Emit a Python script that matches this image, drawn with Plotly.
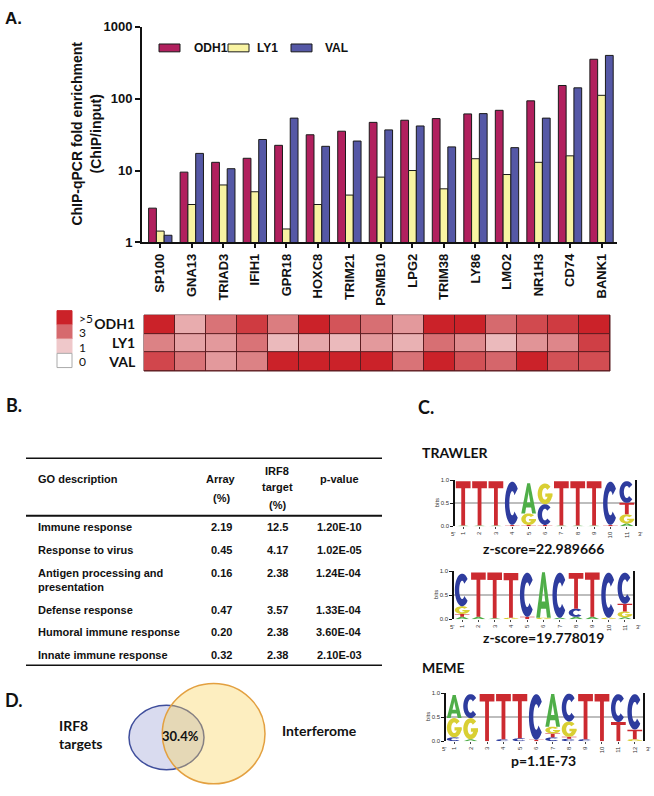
import math
import plotly.graph_objects as go

W, H = 654, 796
def px(x): return x / W
def py(y): return 1 - y / H

ARIAL = "Liberation Sans"
CALI = "Lato"

# ---------------- Panel A data ----------------
genes = ["SP100", "GNA13", "TRIAD3", "IFIH1", "GPR18", "HOXC8", "TRIM21", "PSMB10",
         "LPG2", "TRIM38", "LY86", "LMO2", "NR1H3", "CD74", "BANK1"]
odh1 = [3.0, 9.5, 13.0, 14.8, 22.4, 31.4, 35.2, 46.7, 50.0, 52.7, 61.2, 68.7, 93.0, 152, 352]
ly1 = [1.44, 3.37, 6.3, 5.07, 1.54, 3.37, 4.56, 8.1, 10.0, 5.57, 14.6, 8.8, 13.0, 16.0, 111]
val = [1.26, 17.3, 10.6, 27.0, 53.5, 21.7, 25.7, 36.7, 41.6, 21.3, 61.8, 20.8, 53.5, 141, 398]
series_names = ["ODH1", "LY1", "VAL"]
series_colors = ["#b1205e", "#f8f3a2", "#5558a6"]
y_ticks = [1, 10, 100, 1000]

heat_rows = ["ODH1", "LY1", "VAL"]
heat_odh1 = [5.5, 1.6, 2.8, 4.3, 2.6, 5.5, 3.6, 2.9, 2.0, 5.5, 5.5, 3.0, 3.9, 4.3, 5.5]
heat_ly1 = [2.5, 1.8, 2.0, 2.8, 1.3, 1.7, 1.3, 2.0, 1.5, 2.9, 2.3, 1.3, 2.1, 2.4, 4.2]
heat_val = [4.0, 2.8, 2.0, 2.5, 5.5, 5.5, 5.5, 5.5, 2.8, 5.5, 3.7, 3.1, 5.5, 3.7, 3.8]
heat_legend_vals = [5, 3, 1, 0]
heat_legend_labels = [">5", "3", "1", "0"]
heat_scale = [[0, "#ffffff"], [0.2, "#efc8ca"], [0.6, "#d66a6e"], [1, "#cb2229"]]

# ---------------- Panel B data ----------------
go_terms = ["Immune response", "Response to virus", "Antigen processing and<br>presentation",
            "Defense response", "Humoral immune response", "Innate immune response"]
array_pct = ["2.19", "0.45", "0.16", "0.47", "0.20", "0.32"]
irf8_pct = ["12.5", "4.17", "2.38", "3.57", "2.38", "2.38"]
p_values = ["1.20E-10", "1.02E-05", "1.24E-04", "1.33E-04", "3.60E-04", "2.10E-03"]

# ---------------- Panel C data (stacks bottom -> top) ----------------
logo_trawler1 = [
    [("A", 0.02), ("T", 0.96)], [("A", 0.02), ("T", 0.96)], [("A", 0.02), ("T", 0.96)],
    [("T", 0.03), ("C", 0.94)], [("T", 0.03), ("G", 0.25), ("A", 0.65)],
    [("T", 0.03), ("C", 0.45), ("G", 0.45)],
    [("A", 0.02), ("T", 0.96)], [("A", 0.02), ("T", 0.96)], [("A", 0.02), ("T", 0.96)],
    [("T", 0.03), ("C", 0.94)], [("A", 0.06), ("G", 0.20), ("T", 0.25), ("C", 0.47)],
]
logo_trawler2 = [
    [("A", 0.05), ("T", 0.06), ("G", 0.16), ("C", 0.68)], [("A", 0.05), ("T", 0.92)],
    [("A", 0.02), ("T", 0.95)], [("G", 0.03), ("T", 0.93)], [("T", 0.05), ("C", 0.92)],
    [("G", 0.03), ("A", 0.94)], [("A", 0.03), ("C", 0.94)],
    [("A", 0.05), ("C", 0.17), ("T", 0.74)], [("A", 0.05), ("T", 0.92)],
    [("G", 0.03), ("C", 0.94)], [("A", 0.04), ("G", 0.12), ("T", 0.16), ("C", 0.65)],
]
logo_meme = [
    [("C", 0.08), ("G", 0.40), ("A", 0.48)], [("A", 0.04), ("G", 0.44), ("C", 0.50)],
    [("T", 0.98)], [("C", 0.04), ("T", 0.94)], [("C", 0.06), ("T", 0.92)],
    [("T", 0.03), ("C", 0.95)], [("C", 0.08), ("T", 0.08), ("G", 0.14), ("A", 0.68)],
    [("C", 0.05), ("T", 0.04), ("G", 0.32), ("C", 0.58)], [("C", 0.04), ("T", 0.94)],
    [("T", 0.98)], [("T", 0.40), ("C", 0.58)], [("G", 0.04), ("T", 0.20), ("C", 0.74)],
]
logo_captions = ["z-score=22.989666", "z-score=19.778019", "p=1.1E-73"]
letter_colors = {"A": "#4fae48", "C": "#2e3c9e", "G": "#d9cf33", "T": "#cc2a30"}

# ---------------- Panel D data ----------------
venn_sets = ["IRF8<br>targets", "Interferome"]
venn_overlap = "30.4%"

# =====================================================================
fig = go.Figure()
for name, vals, col in zip(series_names, [odh1, ly1, val], series_colors):
    fig.add_trace(go.Bar(x=genes, y=vals, name=name, marker=dict(color=col, line=dict(color="#1a1a1a", width=1)),
                         xaxis="x", yaxis="y", showlegend=False))

fig.add_trace(go.Heatmap(z=[heat_val, heat_ly1, heat_odh1], x=genes, y=heat_rows[::-1],
                         colorscale=heat_scale, zmin=0, zmax=5, showscale=False, xgap=1, ygap=1,
                         xaxis="x2", yaxis="y2", hoverinfo="skip"))

shapes = []
annotations = []

def ann(text, x, y, size, family=ARIAL, bold=True, xanchor="center", yanchor="middle", angle=0, color="#111",
        align="center"):
    annotations.append(dict(text=text, x=px(x), y=py(y), xref="paper", yref="paper", showarrow=False,
                            xanchor=xanchor, yanchor=yanchor, textangle=angle, align=align,
                            font=dict(family=family, size=size, color=color, weight="bold" if bold else "normal")))

def hline(x0, x1, y, w):
    shapes.append(dict(type="line", xref="paper", yref="paper", x0=px(x0), x1=px(x1), y0=py(y), y1=py(y),
                       line=dict(color="#111", width=w)))

# Panel letters
ann("A.", 3, 12, 17, ARIAL, xanchor="left")
ann("B.", 4, 406, 18, CALI, xanchor="left")
ann("C.", 416, 408, 18, CALI, xanchor="left")
ann("D.", 3, 706, 18, CALI, xanchor="left")

# y axis title
ann("ChIP-qPCR fold enrichment<br>(ChIP/input)", 86, 129, 14, ARIAL, angle=-90)

# bar legend (key boxes + labels)
legend_box_x = [159, 228, 291]
legend_text_x = [192, 255, 323]
for name, col, bx, tx in zip(series_names, series_colors, legend_box_x, legend_text_x):
    shapes.append(dict(type="rect", xref="paper", yref="paper", x0=px(bx), x1=px(bx + 21), y0=py(45.7), y1=py(37.7),
                       fillcolor=col, line=dict(color="#1a1a1a", width=1)))
    ann(name, tx, 41.5, 12, ARIAL, xanchor="left")

# heatmap background for grid lines + border
shapes.append(dict(type="rect", xref="x2 domain", yref="y2 domain", x0=0, x1=1, y0=0, y1=1,
                   fillcolor="#5b1c20", line=dict(color="#5b1c20", width=1), layer="below"))

# heatmap legend
def hex2rgb(h):
    h = h.lstrip("#"); return [int(h[i:i + 2], 16) for i in (0, 2, 4)]

def scale_color(v):
    t = max(0.0, min(1.0, v / 5.0))
    for (t0, c0), (t1, c1) in zip(heat_scale, heat_scale[1:]):
        if t <= t1:
            f = (t - t0) / (t1 - t0) if t1 > t0 else 0
            a, b = hex2rgb(c0), hex2rgb(c1)
            return "rgb(%d,%d,%d)" % tuple(round(a[i] + (b[i] - a[i]) * f) for i in range(3))
    return heat_scale[-1][1]

sq_top, sq_h = 309.5, 14.5
for k, (v, lab) in enumerate(zip(heat_legend_vals, heat_legend_labels)):
    y0 = sq_top + k * sq_h
    shapes.append(dict(type="rect", xref="paper", yref="paper", x0=px(57), x1=px(72), y0=py(y0 + sq_h), y1=py(y0),
                       fillcolor=scale_color(v), line=dict(color="#aaaaaa" if v == 0 else scale_color(v), width=1)))
    ann(lab, 77, y0 + sq_h / 2 + 1, 12, CALI, bold=False, xanchor="left")

# ---------------- table ----------------
hline(26, 382, 460, 1.5)
hline(26, 382, 518.5, 2)
hline(26, 382, 671, 1.5)
col_array, col_irf8, col_p = 221, 277, 339
ann("GO description", 36, 481, 11, xanchor="left")
ann("Array", col_array, 481, 11)
ann("(%)", col_array, 500, 11)
ann("IRF8", col_irf8, 473, 11)
ann("target", col_irf8, 489.5, 11)
ann("(%)", col_irf8, 507.5, 11)
ann("p-value", col_p, 481, 11)
row_y = [530, 553.3, 576.7, 614.3, 637.3, 660.7]
for term, a, r, p, yy in zip(go_terms, array_pct, irf8_pct, p_values, row_y):
    ann(term, 36, yy - 8, 11, xanchor="left", yanchor="top", align="left")
    ann(a, col_array, yy, 11)
    ann(r, col_irf8, yy, 11)
    ann(p, col_p, yy, 11)

# ---------------- logos ----------------
def ring(a0, a1, ro=(0.5, 0.5), ri=(0.2, 0.28), n=26):
    pts = []
    for k in range(n + 1):
        a = math.radians(a0 + (a1 - a0) * k / n)
        pts.append((0.5 + ro[0] * math.cos(a), 0.5 + ro[1] * math.sin(a)))
    for k in range(n + 1):
        a = math.radians(a1 - (a1 - a0) * k / n)
        pts.append((0.5 + ri[0] * math.cos(a), 0.5 + ri[1] * math.sin(a)))
    return pts

GLYPHS = {
    "T": [[(0, 1), (1, 1), (1, 0.84), (0.63, 0.84), (0.63, 0), (0.37, 0), (0.37, 0.84), (0, 0.84)]],
    "A": [[(0, 0), (0.26, 0), (0.6, 1), (0.4, 1)], [(1, 0), (0.74, 0), (0.4, 1), (0.6, 1)],
          [(0.2, 0.2), (0.8, 0.2), (0.8, 0.36), (0.2, 0.36)]],
    "C": [ring(42, 318)],
    "G": [ring(42, 360), [(0.52, 0.36), (1, 0.36), (1, 0.52), (0.52, 0.52)]],
}

logo_specs = [
    (logo_trawler1, "x3", "y3", 455, 635, 482.3, 529.3),
    (logo_trawler2, "x4", "y4", 454, 633, 575, 624),
    (logo_meme, "x5", "y5", 446, 643, 699.3, 748.3),
]
layout_axes = {}
for idx, (logo, xa, ya, x0, x1, yt, yb) in enumerate(logo_specs):
    n = len(logo)
    for i, stack in enumerate(logo, start=1):
        base = 0.0
        for letter, h in stack:
            for poly in GLYPHS[letter]:
                path = "M " + " L ".join("%.4f,%.4f" % (i - 0.45 + 0.9 * u, base + h * v) for u, v in poly) + " Z"
                shapes.append(dict(type="path", xref=xa, yref=ya, path=path, fillcolor=letter_colors[letter],
                                   line=dict(width=0)))
            base += h
    xkey = "xaxis" + xa[1:]
    ykey = "yaxis" + ya[1:]
    layout_axes[xkey] = dict(domain=[px(x0), px(x1)], range=[0.5, n + 0.5], anchor=ya, showgrid=False,
                             zeroline=False, showline=False, tickvals=list(range(1, n + 1)),
                             ticktext=[str(k) for k in range(1, n + 1)], tickangle=-90, ticks="outside",
                             ticklen=2, tickcolor="#444", tickfont=dict(family=ARIAL, size=6, color="#333"),
                             fixedrange=True)
    layout_axes[ykey] = dict(domain=[py(yb), py(yt)], range=[0, 1.0], anchor=xa, showgrid=True,
                             gridcolor="#bdbdbd", gridwidth=1.5, zeroline=False, showline=True,
                             linecolor="#111", linewidth=1.5, mirror=True, tickvals=[0, 0.5, 1.0],
                             ticktext=["0.0", "0.5", "1.0"], ticks="outside", ticklen=3, tickcolor="#111",
                             tickfont=dict(family=ARIAL, size=6, color="#333"), fixedrange=True)
    ann("bits", x0 - 18, (yt + yb) / 2, 6, ARIAL, bold=False, angle=-90, color="#333")
    ann("5'", x0 - 2, yb + 8, 6, ARIAL, bold=False, color="#333")
    ann("3'", min(x1 + 5, 648), yb + 8, 6, ARIAL, bold=False, color="#333")

ann("TRAWLER", 420, 454, 14, CALI, xanchor="left")
ann(logo_captions[0], 543, 551.7, 14, CALI)
ann(logo_captions[1], 543, 642.3, 14, CALI)
ann("MEME", 420, 673.3, 14, CALI, xanchor="left")
ann(logo_captions[2], 543, 768.3, 14, CALI)

# ---------------- Venn ----------------
shapes.append(dict(type="circle", xref="paper", yref="paper", x0=px(129), x1=px(204), y0=py(777.3), y1=py(711.7),
                   fillcolor="#d9dbef", line=dict(color="#3f4e9c", width=1.5)))
shapes.append(dict(type="circle", xref="paper", yref="paper", x0=px(162.3), x1=px(265), y0=py(791.7), y1=py(689.5),
                   fillcolor="rgba(250,210,90,0.38)", line=dict(color="#e3a040", width=1.5)))
ann(venn_sets[0], 57, 741, 14, CALI, xanchor="left", align="left")
ann(venn_sets[1], 280, 737.7, 14, CALI, xanchor="left")
ann(venn_overlap, 180.5, 743.3, 13, CALI)

fig.update_layout(
    width=W, height=H, margin=dict(l=0, r=0, t=0, b=0),
    paper_bgcolor="white", plot_bgcolor="rgba(0,0,0,0)",
    barmode="group", bargap=0.26, bargroupgap=0,
    showlegend=False,
    xaxis=dict(domain=[px(142), px(617.3)], range=[-0.58, 14.5], anchor="y", showline=True, linecolor="#111",
               linewidth=2, ticks="outside", ticklen=4, tickwidth=1.5, tickcolor="#111", tickangle=-90,
               tickfont=dict(family=ARIAL, size=13, color="#111", weight="bold"), showgrid=False, zeroline=False,
               fixedrange=True),
    yaxis=dict(type="log", range=[0, 3], domain=[py(240), py(20)], anchor="x", showline=True, linecolor="#111",
               linewidth=2, ticks="outside", ticklen=5, tickwidth=2, tickcolor="#111", tickvals=y_ticks,
               ticktext=[str(v) for v in y_ticks], tickfont=dict(family=ARIAL, size=13, color="#111", weight="bold"),
               showgrid=False, zeroline=False, fixedrange=True),
    xaxis2=dict(domain=[px(144), px(610)], range=[-0.5, 14.5], anchor="y2", showticklabels=False, showgrid=False,
                zeroline=False, showline=False, ticks="", fixedrange=True),
    yaxis2=dict(domain=[py(371), py(314)], anchor="x2", showgrid=False, zeroline=False, showline=False,
                ticks="outside", ticklen=5, tickcolor="rgba(0,0,0,0)",
                tickfont=dict(family=CALI, size=14, color="#111", weight="bold"), fixedrange=True),
    shapes=shapes, annotations=annotations,
)
fig.update_layout(**layout_axes)
fig.write_html("out.html", config={"displayModeBar": False},
               post_script="document.body.style.margin='0px';")
